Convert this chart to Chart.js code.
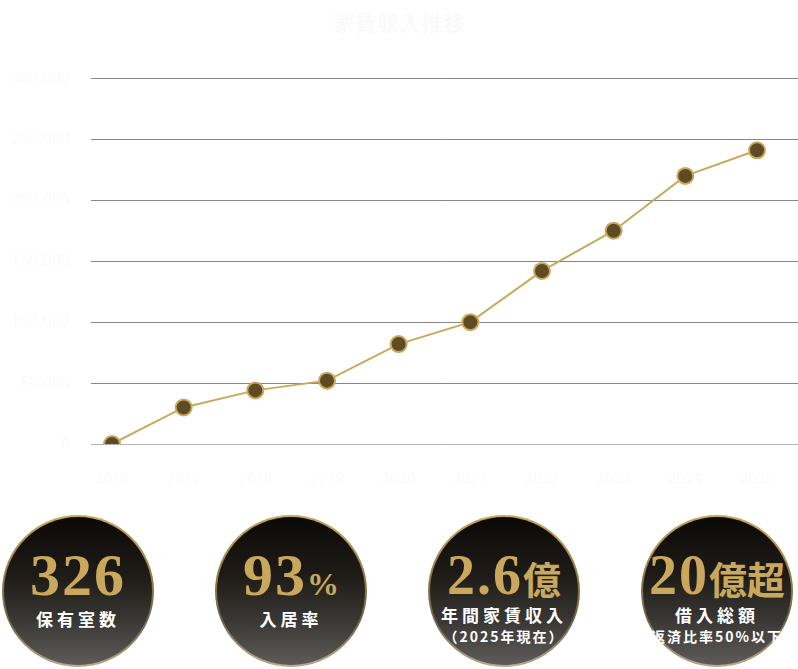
<!DOCTYPE html>
<html lang="ja">
<head>
<meta charset="utf-8">
<title>家賃収入推移</title>
<script src="https://cdn.jsdelivr.net/npm/chart.js@4.4.1/dist/chart.umd.min.js"></script>
<style>
  html, body { margin: 0; padding: 0; background: #fff; }
  body { width: 798px; height: 669px; position: relative; overflow: hidden; font-family: "Noto Sans CJK JP", sans-serif; }
  .chart-wrap { position: absolute; left: 0; top: 0; width: 798px; height: 500px; }
  .badge {
    position: absolute; top: 515px; width: 152px; height: 152px; border-radius: 50%;
    background: linear-gradient(to bottom, #c9a85c 0%, #8f7848 45%, #6d6150 70%, #b9ab8c 100%);
  }
  .badge .inner {
    position: absolute; left: 2px; top: 2px; right: 2px; bottom: 2px; border-radius: 50%;
    background: linear-gradient(to bottom, #0b0906 0%, #1f1c18 40%, #3a3834 70%, #5e5c5a 100%);
    text-align: center; color: #fff;
  }
  .num {
    position: absolute; left: -40px; right: -40px; top: 28px; text-align: center;
    font-family: "Liberation Serif", "DejaVu Serif", serif; font-weight: bold;
    font-size: 60px; line-height: 60px; color: #c9a75c; letter-spacing: 2px;
  }
  .num small { font-size: 32px; letter-spacing: 0; }
  .num .kanji { font-family: "Noto Sans CJK JP", sans-serif; font-size: 38px; font-weight: bold; letter-spacing: 0; }
  .lbl {
    position: absolute; left: -40px; right: -40px; top: 92px; text-align: center;
    font-size: 17px; line-height: 20px; font-weight: bold; letter-spacing: 4px; color: #fff;
  }
  .sub {
    position: absolute; left: -60px; right: -60px; top: 118px; text-align: center;
    font-size: 14px; line-height: 18px; font-weight: bold; letter-spacing: 2px; color: #fff;
  }
</style>
</head>
<body>
<div class="chart-wrap"><canvas id="rentChart"></canvas></div>

<div class="badge" style="left:2px"><div class="inner">
  <div class="num">326</div>
  <div class="lbl">保有室数</div>
</div></div>
<div class="badge" style="left:215px"><div class="inner">
  <div class="num">93<small>%</small></div>
  <div class="lbl">入居率</div>
</div></div>
<div class="badge" style="left:428px"><div class="inner">
  <div class="num" style="font-size:56px">2.6<span class="kanji">億</span></div>
  <div class="lbl" style="top:88px">年間家賃収入</div>
  <div class="sub" style="top:110px">（2025年現在）</div>
</div></div>
<div class="badge" style="left:641px"><div class="inner">
  <div class="num" style="font-size:56px">20<span class="kanji">億超</span></div>
  <div class="lbl" style="top:88px">借入総額</div>
  <div class="sub" style="top:110px">返済比率50%以下</div>
</div></div>

<script>
// 年ごとの家賃収入（千円）
const years = [2016, 2017, 2018, 2019, 2020, 2021, 2022, 2023, 2024, 2025];
const rentIncome = [0, 30000, 44000, 52000, 82000, 100000, 142000, 175000, 220000, 241000];
const yTicks = [0, 50000, 100000, 150000, 200000, 250000, 300000];

const faint = '#fafafa';
const ctx = document.getElementById('rentChart').getContext('2d');
window.myChart = new Chart(ctx, {
    type: 'line',
    data: {
        datasets: [{
            label: '家賃収入',
            data: years.map((y, i) => ({ x: y, y: rentIncome[i] })),
            borderColor: '#c8a95e',
            borderWidth: 2,
            backgroundColor: '#5e4b26',
            pointBackgroundColor: '#5e4b26',
            pointBorderColor: '#c8a95e',
            pointBorderWidth: 2,
            pointRadius: 8,
            tension: 0
        }]
    },
    options: {
        responsive: true,
        maintainAspectRatio: false,
        animation: false,
        layout: { autoPadding: false },
        plugins: {
            legend: { display: false },
            tooltip: { enabled: false },
            title: {
                display: true,
                text: '家賃収入推移',
                color: faint,
                font: { family: '"Noto Sans CJK JP"', size: 22, weight: 'bold' },
                padding: { top: 9, bottom: 43 }
            }
        },
        scales: {
            x: {
                type: 'linear',
                min: 2015.707,
                max: 2025.572,
                afterBuildTicks: (scale) => { scale.ticks = years.map(v => ({ value: v })); },
                afterFit: (scale) => { scale.height = 56; },
                grid: { display: false },
                border: { display: false },
                ticks: {
                    color: faint,
                    padding: 18,
                    font: { family: '"Noto Sans"', size: 15 },
                    callback: (v) => String(v)
                }
            },
            y: {
                min: 0,
                max: 300000,
                afterBuildTicks: (scale) => { scale.ticks = yTicks.map(v => ({ value: v })); },
                afterFit: (scale) => { scale.width = 91; },
                grid: { color: (c) => c.tick.value === 0 ? '#b3b3b3' : '#868686', lineWidth: 1, drawTicks: false },
                border: { display: false },
                ticks: {
                    color: faint,
                    padding: 21,
                    font: { family: '"Noto Sans"', size: 16 },
                    callback: (v) => v.toLocaleString('en-US')
                }
            }
        }
    }
});
</script>
</body>
</html>
